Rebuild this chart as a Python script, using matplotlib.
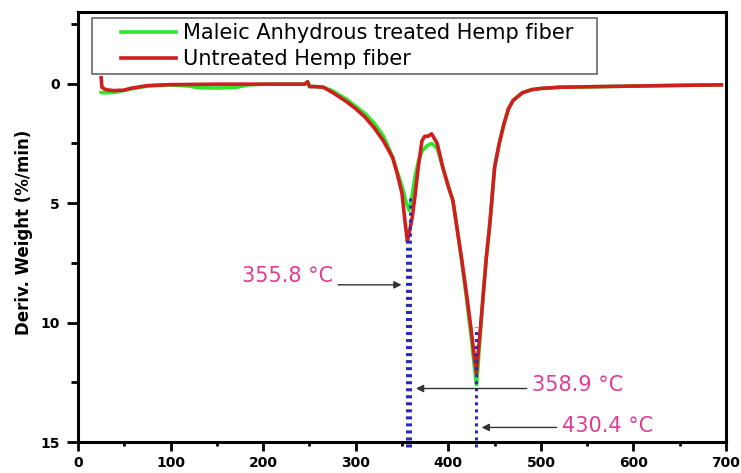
import matplotlib
matplotlib.use("Agg")
import matplotlib.pyplot as plt
from matplotlib.ticker import MultipleLocator
from matplotlib.lines import Line2D
from matplotlib.legend_handler import HandlerLine2D

# DTG readings: temperature (°C) and derivative weight loss (%/min)
temp_treated = [25, 30, 40, 50, 60, 75, 100, 120, 130, 150, 170, 185, 200, 245,
                248, 250, 255, 265, 275, 290, 300, 310, 320, 330, 338, 345, 350,
                354, 357.5, 360, 364, 368, 372, 377, 382, 388, 394, 400, 405, 410,
                415, 420, 425, 428, 430.4, 432, 435, 438, 441, 445, 450, 455, 460,
                465, 470, 480, 490, 500, 520, 550, 600, 650, 695]
dtg_treated = [0.37, 0.38, 0.36, 0.28, 0.2, 0.1, 0.05, 0.1, 0.17, 0.18, 0.16, 0.05,
               0.02, 0.02, -0.08, 0.12, 0.12, 0.15, 0.3, 0.65, 0.95, 1.25, 1.65, 2.2,
               2.9, 3.7, 4.3, 4.9, 5.3, 4.9, 3.9, 3.2, 2.8, 2.6, 2.5, 2.7, 3.5, 4.3,
               4.9, 6.2, 7.6, 9.1, 10.7, 11.8, 12.6, 11.9, 10.2, 8.7, 7.3, 5.8, 3.5,
               2.5, 1.7, 1.05, 0.7, 0.38, 0.25, 0.2, 0.15, 0.13, 0.1, 0.07, 0.05]

temp_untreated = [25, 25.8, 30, 38, 50, 56, 75, 100, 150, 200, 245, 248, 250, 255,
                  265, 275, 290, 300, 310, 320, 330, 340, 345, 350, 353, 355.8, 358,
                  361, 364, 367.5, 371.5, 374.5, 378, 382, 388, 394, 400, 405, 410,
                  415, 420, 425, 428, 430.4, 432, 435, 438, 441, 445, 450, 455, 460,
                  465, 470, 480, 490, 500, 520, 550, 600, 650, 695]
dtg_untreated = [-0.25, 0.15, 0.25, 0.29, 0.27, 0.2, 0.08, 0.04, 0.02, 0.02, 0.02,
                 -0.08, 0.12, 0.12, 0.15, 0.37, 0.75, 1.05, 1.4, 1.85, 2.4, 3.1, 3.8,
                 4.6, 5.7, 6.6, 6.2, 5.6, 4.7, 3.5, 2.4, 2.2, 2.2, 2.1, 2.5, 3.5, 4.3,
                 4.9, 6.2, 7.5, 8.9, 10.4, 11.4, 12.1, 11.4, 10.1, 8.7, 7.3, 5.8, 3.5,
                 2.5, 1.7, 1.05, 0.7, 0.38, 0.25, 0.2, 0.15, 0.13, 0.1, 0.07, 0.05]

series_labels = ["Maleic Anhydrous treated Hemp fiber", "Untreated Hemp fiber"]

# Peak temperatures marked with dotted guides
peak_temps = [355.8, 358.9, 430.4]
peak_guide_tops = [6.5, 4.75, 10.2]
peak_labels = ["355.8 °C", "358.9 °C", "430.4 °C"]

x_ticks = [0, 100, 200, 300, 400, 500, 600, 700]
y_ticks = [0, 5, 10, 15]

GREEN = "#2ee62e"
RED = "#d01e1e"
PINK = "#e03c95"
BLUE = "#2a2ab8"

fig = plt.figure(figsize=(7.41, 4.73), dpi=100)
ax = fig.add_axes([0.1053, 0.0655, 0.8745, 0.9091])

l_green, = ax.plot(temp_treated, dtg_treated, color=GREEN, lw=2.6,
                   solid_joinstyle="round", zorder=3)
l_red, = ax.plot(temp_untreated, dtg_untreated, color=RED, lw=2.6,
                 solid_joinstyle="round", zorder=4)

# Dotted peak guides
for t, top in zip(peak_temps, peak_guide_tops):
    ax.plot([t, t], [15.2, top], color=BLUE, lw=2.2, ls=(0, (1, 1.3)),
            zorder=5, clip_on=False)

# Labels with arrows pointing at the guides
arrow_specs = [
    # (text x, text baseline y, arrow start x, arrow tip x, arrow y)
    (176.8, 8.29, 281, 349.5, 8.42),
    (490.1, 12.875, 484.7, 365, 12.76),
    (522.5, 14.58, 517, 436, 14.39),
]
for label, (tx, ty, ax0, ax1, ay) in zip(peak_labels, arrow_specs):
    ax.text(tx, ty, label, color=PINK, fontsize=15, family="DejaVu Sans",
            ha="left", va="baseline", zorder=6)
    ax.annotate("", xy=(ax1, ay), xytext=(ax0, ay),
                arrowprops=dict(arrowstyle="-|>", color="#333333", lw=1.0,
                                mutation_scale=11, shrinkA=0, shrinkB=0),
                zorder=6)

ax.set_xlim(0, 700)
ax.set_ylim(15, -3)
ax.set_xticks(x_ticks)
ax.set_yticks(y_ticks)
ax.xaxis.set_minor_locator(MultipleLocator(50))
ax.yaxis.set_minor_locator(MultipleLocator(2.5))

for side in ["left", "bottom", "top", "right"]:
    ax.spines[side].set_linewidth(2.2)
    ax.spines[side].set_color("black")

ax.tick_params(axis="x", which="major", direction="out", length=6.5, width=2,
               pad=3.6, labelsize=10)
ax.tick_params(axis="x", which="minor", direction="out", length=3, width=2)
ax.tick_params(axis="y", which="major", direction="out", length=8, width=2,
               pad=5, labelsize=10)
ax.tick_params(axis="y", which="minor", direction="out", length=5, width=2)
ax.tick_params(top=False, right=False, which="both")
for lbl in ax.get_xticklabels() + ax.get_yticklabels():
    lbl.set_fontweight("bold")
    lbl.set_family("DejaVu Sans")

ax.set_ylabel("Deriv. Weight (%/min)", fontsize=12, fontweight="bold",
              family="DejaVu Sans")
ax.yaxis.set_label_coords(-0.0694, 0.487)

leg = ax.legend(handles=[l_green, l_red], labels=series_labels,
                loc="upper left", bbox_to_anchor=(0.0216, 0.865, 0.7793, 0.121),
                mode="expand", borderaxespad=0, frameon=True, fancybox=False,
                edgecolor="#666666", framealpha=1,
                prop=dict(family="DejaVu Sans", size=15),
                handlelength=3.78, handletextpad=0.34, borderpad=0.25,
                labelspacing=0.28,
                handler_map={Line2D: HandlerLine2D(xpad=1.14)})
leg.get_frame().set_linewidth(1.2)

fig.savefig("out.png", dpi=100)
